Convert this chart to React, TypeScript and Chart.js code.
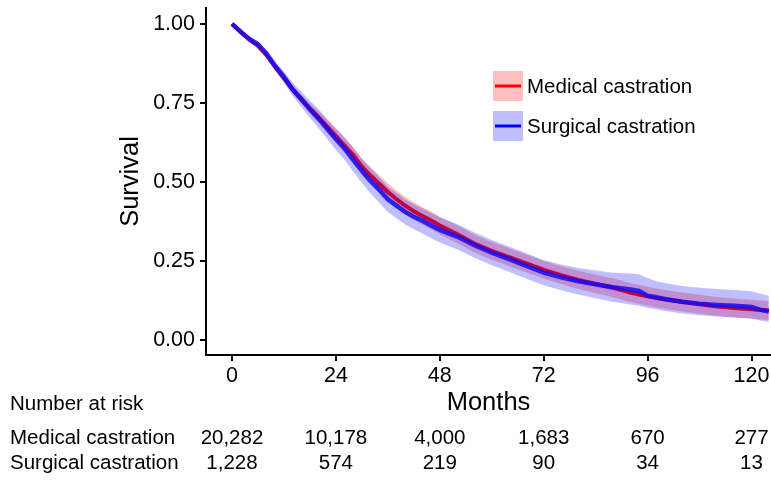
import React, { useEffect, useRef } from 'react';
import { Chart, registerables } from 'chart.js';

Chart.register(...registerables);

const months = [0, 2, 4, 6, 8, 10, 12, 14, 16, 18, 20, 22, 24, 26, 28, 30, 32, 34, 36, 38, 40, 42, 44, 46, 48, 52, 56, 60, 64, 68, 72, 76, 80, 84, 88, 92, 94, 96, 98, 100, 104, 108, 112, 116, 120, 122, 124];

const medicalSurvival = [1.0, 0.975, 0.95, 0.93, 0.9, 0.863, 0.828, 0.792, 0.762, 0.732, 0.705, 0.675, 0.645, 0.615, 0.585, 0.548, 0.52, 0.494, 0.468, 0.445, 0.425, 0.407, 0.392, 0.378, 0.362, 0.335, 0.305, 0.282, 0.262, 0.242, 0.222, 0.205, 0.19, 0.177, 0.165, 0.15, 0.144, 0.138, 0.133, 0.128, 0.12, 0.113, 0.106, 0.101, 0.097, 0.095, 0.093];
const medicalUpper = [1.0, 0.977, 0.954, 0.935, 0.906, 0.871, 0.838, 0.804, 0.776, 0.748, 0.723, 0.695, 0.667, 0.639, 0.61, 0.574, 0.547, 0.522, 0.496, 0.473, 0.453, 0.435, 0.42, 0.406, 0.39, 0.363, 0.333, 0.31, 0.29, 0.27, 0.25, 0.233, 0.219, 0.206, 0.195, 0.18, 0.174, 0.168, 0.163, 0.158, 0.15, 0.143, 0.136, 0.131, 0.127, 0.125, 0.123];
const medicalLower = [1.0, 0.973, 0.946, 0.925, 0.894, 0.855, 0.818, 0.78, 0.748, 0.716, 0.687, 0.655, 0.623, 0.591, 0.56, 0.522, 0.493, 0.466, 0.44, 0.417, 0.397, 0.379, 0.364, 0.35, 0.334, 0.307, 0.277, 0.254, 0.234, 0.214, 0.194, 0.177, 0.161, 0.148, 0.135, 0.12, 0.114, 0.108, 0.103, 0.098, 0.09, 0.083, 0.076, 0.071, 0.067, 0.065, 0.063];

const surgicalSurvival = [1.0, 0.975, 0.952, 0.935, 0.905, 0.866, 0.832, 0.793, 0.762, 0.73, 0.7, 0.668, 0.636, 0.606, 0.57, 0.535, 0.503, 0.475, 0.445, 0.425, 0.405, 0.39, 0.377, 0.362, 0.348, 0.327, 0.3, 0.276, 0.256, 0.234, 0.213, 0.198, 0.186, 0.176, 0.167, 0.16, 0.155, 0.14, 0.135, 0.13, 0.121, 0.115, 0.111, 0.108, 0.104, 0.096, 0.09];
const surgicalUpper = [1.0, 0.979, 0.959, 0.945, 0.917, 0.881, 0.85, 0.814, 0.786, 0.757, 0.73, 0.7, 0.67, 0.642, 0.607, 0.573, 0.543, 0.515, 0.485, 0.465, 0.445, 0.43, 0.417, 0.402, 0.388, 0.367, 0.34, 0.316, 0.296, 0.274, 0.253, 0.239, 0.228, 0.22, 0.213, 0.21, 0.208, 0.196, 0.186, 0.18, 0.171, 0.165, 0.161, 0.158, 0.154, 0.146, 0.14];
const surgicalLower = [1.0, 0.971, 0.945, 0.925, 0.893, 0.851, 0.814, 0.772, 0.738, 0.703, 0.67, 0.636, 0.602, 0.57, 0.533, 0.497, 0.463, 0.435, 0.405, 0.385, 0.365, 0.35, 0.337, 0.322, 0.308, 0.287, 0.26, 0.236, 0.216, 0.194, 0.173, 0.157, 0.144, 0.132, 0.121, 0.112, 0.108, 0.101, 0.097, 0.092, 0.084, 0.078, 0.074, 0.071, 0.068, 0.062, 0.057];

const groupNames = ['Medical castration', 'Surgical castration'];
const riskMonths = [0, 24, 48, 72, 96, 120];
const riskMedical = [20282, 10178, 4000, 1683, 670, 277];
const riskSurgical = [1228, 574, 219, 90, 34, 13];
const xTicks = [0, 24, 48, 72, 96, 120];
const yTicks = [0, 0.25, 0.5, 0.75, 1.0];

const FONT = '"Liberation Sans", Arial, Helvetica, sans-serif';
const RED = '#ff0000';
const BLUE = 'rgba(20, 10, 245, 0.85)';
const RED_BAND = 'rgba(255, 0, 0, 0.25)';
const BLUE_BAND = 'rgba(0, 0, 255, 0.25)';

export default function App() {
  const ref = useRef<HTMLCanvasElement>(null);

  useEffect(() => {
    if (!ref.current) return;
    const pts = (arr: number[]) => months.map((m, i) => ({ x: m, y: arr[i] }));

    const extras = {
      id: 'kmExtras',
      afterDraw(chart: any) {
        const ctx = chart.ctx;
        const xs = chart.scales.x;
        ctx.save();
        // legend
        const items = [
          { fill: RED_BAND, line: RED, label: groupNames[0], top: 71 },
          { fill: BLUE_BAND, line: '#0000ff', label: groupNames[1], top: 111 },
        ];
        items.forEach((it) => {
          ctx.fillStyle = it.fill;
          ctx.fillRect(493, it.top, 30, 30);
          ctx.strokeStyle = it.line;
          ctx.lineWidth = 3;
          ctx.beginPath();
          ctx.moveTo(495, it.top + 15);
          ctx.lineTo(521, it.top + 15);
          ctx.stroke();
          ctx.fillStyle = '#000';
          ctx.font = `20.5px ${FONT}`;
          ctx.textAlign = 'left';
          ctx.textBaseline = 'middle';
          ctx.fillText(it.label, 527, it.top + 16);
        });
        // number at risk table
        ctx.fillStyle = '#000';
        ctx.font = `20.5px ${FONT}`;
        ctx.textBaseline = 'middle';
        ctx.textAlign = 'left';
        ctx.fillText('Number at risk', 10, 404);
        ctx.fillText(groupNames[0], 10, 438);
        ctx.fillText(groupNames[1], 10, 463);
        ctx.textAlign = 'center';
        riskMonths.forEach((m, i) => {
          const px = xs.getPixelForValue(m);
          ctx.fillText(riskMedical[i].toLocaleString('en-US'), px, 438);
          ctx.fillText(riskSurgical[i].toLocaleString('en-US'), px, 463);
        });
        ctx.restore();
      },
    };

    const base = { pointRadius: 0, pointHoverRadius: 0, tension: 0, borderWidth: 0 };

    const chart = new Chart(ref.current, {
      type: 'line',
      data: {
        datasets: [
          { ...base, label: 'medUpper', data: pts(medicalUpper), fill: 1, backgroundColor: RED_BAND, borderColor: 'rgba(0,0,0,0)', order: 6 },
          { ...base, label: 'medLower', data: pts(medicalLower), fill: false, borderColor: 'rgba(0,0,0,0)', order: 6 },
          { ...base, label: groupNames[0], data: pts(medicalSurvival), fill: false, borderColor: RED, borderWidth: 4, order: 4 },
          { ...base, label: 'surgUpper', data: pts(surgicalUpper), fill: 4, backgroundColor: BLUE_BAND, borderColor: 'rgba(0,0,0,0)', order: 3 },
          { ...base, label: 'surgLower', data: pts(surgicalLower), fill: false, borderColor: 'rgba(0,0,0,0)', order: 3 },
          { ...base, label: groupNames[1], data: pts(surgicalSurvival), fill: false, borderColor: BLUE, borderWidth: 4.5, order: 1 },
        ],
      },
      options: {
        responsive: false,
        animation: false,
        events: [],
        layout: { padding: { top: 8, left: 0, right: 0, bottom: 0 } },
        plugins: { legend: { display: false }, tooltip: { enabled: false } },
        scales: {
          x: {
            type: 'linear',
            min: -6,
            max: 124.5,
            afterBuildTicks: (s: any) => { s.ticks = xTicks.map((v) => ({ value: v })); },
            afterFit: (s: any) => { s.height = 126; s.paddingLeft = 0; s.paddingRight = 0; },
            ticks: { color: '#000', font: { family: FONT, size: 21.5 }, padding: 2, maxRotation: 0, autoSkip: false },
            grid: { display: true, drawOnChartArea: false, drawTicks: true, tickLength: 6, color: '#000', lineWidth: 2 },
            border: { display: true, color: '#000', width: 2 },
            title: { display: true, text: 'Months', color: '#000', font: { family: FONT, size: 25.5 }, padding: { top: 0, bottom: 63 } },
          },
          y: {
            type: 'linear',
            min: -0.0475,
            max: 1.05,
            afterBuildTicks: (s: any) => { s.ticks = yTicks.map((v) => ({ value: v })); },
            afterFit: (s: any) => { s.width = 206; s.paddingTop = 0; s.paddingBottom = 0; },
            ticks: { color: '#000', font: { family: FONT, size: 21.5 }, padding: 5, callback: (v: any) => Number(v).toFixed(2) },
            grid: { display: true, drawOnChartArea: false, drawTicks: true, tickLength: 6, color: '#000', lineWidth: 2 },
            border: { display: true, color: '#000', width: 2 },
            title: { display: true, text: 'Survival', color: '#000', font: { family: FONT, size: 25.5 }, padding: { top: 116, bottom: 0 } },
          },
        },
      },
      plugins: [extras],
    } as any);

    return () => chart.destroy();
  }, []);

  return (
    <div style={{ position: 'fixed', left: 0, top: 0, width: 771, height: 481, background: '#fff' }}>
      <canvas ref={ref} width={771} height={481} />
    </div>
  );
}
